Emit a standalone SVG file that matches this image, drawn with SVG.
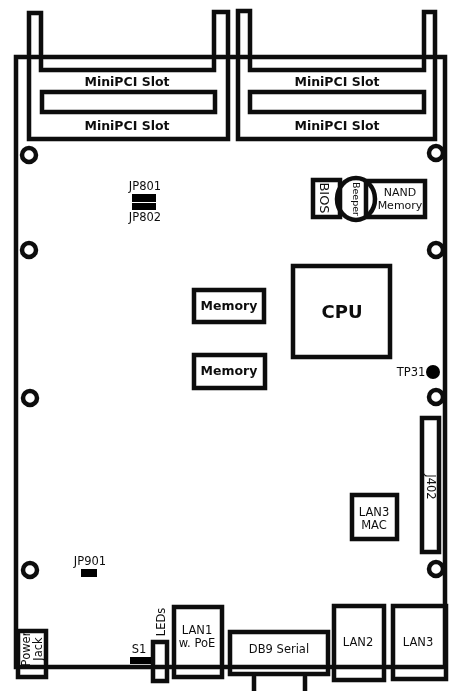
<svg xmlns="http://www.w3.org/2000/svg" width="455" height="691" viewBox="0 0 455 691">
<style>
.s{fill:none;stroke:#111;stroke-width:4.500}
.w{fill:#fff;stroke:#111;stroke-width:4.500}
.b{fill:#000}
text{font-family:"DejaVu Sans",sans-serif;fill:#111;text-anchor:middle}
.t{font-size:11.500px}
.n{font-size:11px}
.slot{font-size:12.500px;font-weight:bold}
.mem{font-size:12.500px;font-weight:bold}
</style>
<defs><filter id="soft" filterUnits="userSpaceOnUse" x="0" y="0" width="455" height="691"><feGaussianBlur stdDeviation="0.6"/></filter></defs>
<rect width="455" height="691" fill="#fff"/>
<g filter="url(#soft)">
<g id="board"><rect class="s" x="16" y="57" width="429" height="610"/></g>
<g id="slot-left">
<path class="s" d="M29 13H41V70H214V12H228V139H29Z"/>
<rect class="s" x="42" y="92" width="173" height="20"/>
<text class="slot" x="127" y="86">MiniPCI Slot</text>
<text class="slot" x="127" y="130">MiniPCI Slot</text>
</g>
<g id="slot-right">
<path class="s" d="M238 11H250V70H424V12H435V139H238Z"/>
<rect class="s" x="250" y="92" width="174" height="20"/>
<text class="slot" x="337" y="86">MiniPCI Slot</text>
<text class="slot" x="337" y="130">MiniPCI Slot</text>
</g>
<g id="holes">
<circle class="w" cx="29" cy="155" r="7"/><circle class="w" cx="436" cy="153" r="7"/>
<circle class="w" cx="29" cy="250" r="7"/><circle class="w" cx="436" cy="250" r="7"/>
<circle class="w" cx="30" cy="398" r="7"/><circle class="w" cx="436" cy="397" r="7"/>
<circle class="w" cx="30" cy="570" r="7"/><circle class="w" cx="436" cy="569" r="7"/>
</g>
<g id="jp801"><rect class="b" x="132" y="194" width="24" height="8"/><text class="t" x="145" y="190">JP801</text></g>
<g id="jp802"><rect class="b" x="132" y="203" width="24" height="7"/><text class="t" x="145" y="221">JP802</text></g>
<g id="bios"><rect class="s" x="313" y="180" width="27" height="37"/><text transform="translate(320,198) rotate(90)" style="font-size:13px">BIOS</text></g>
<g id="nand"><rect class="s" x="366" y="181" width="59" height="36"/><text class="n" x="400" y="196">NAND</text><text class="n" x="400" y="209">Memory</text></g>
<g id="beeper"><ellipse class="s" cx="356" cy="199" rx="19" ry="21"/><text transform="translate(352.500,199) rotate(90)" style="font-size:9.500px">Beeper</text></g>
<g id="cpu"><rect class="s" x="293" y="266" width="97" height="91"/><text x="342" y="318" style="font-size:18px;font-weight:bold">CPU</text></g>
<g id="memory1"><rect class="s" x="194" y="290" width="70" height="32"/><text class="mem" x="229" y="310">Memory</text></g>
<g id="memory2"><rect class="s" x="194" y="355" width="71" height="33"/><text class="mem" x="229" y="375">Memory</text></g>
<g id="tp31"><circle class="b" cx="433" cy="372" r="7"/><text class="t" x="411" y="376">TP31</text></g>
<g id="j402"><rect class="s" x="422" y="418" width="17" height="134"/><text class="t" transform="translate(427,487) rotate(90)">J402</text></g>
<g id="lan3mac"><rect class="s" x="352" y="495" width="45" height="44"/><text class="t" x="374" y="516">LAN3</text><text class="t" x="374" y="529">MAC</text></g>
<g id="jp901"><rect class="b" x="81" y="569" width="16" height="8"/><text class="t" x="90" y="565">JP901</text></g>
<g id="s1"><rect class="b" x="130" y="657" width="21" height="7"/><text class="t" x="139" y="653">S1</text></g>
<g id="power-jack"><rect class="s" x="18" y="631" width="28" height="46"/><text class="t" transform="translate(30,649) rotate(-90)">Power</text><text class="t" transform="translate(42,649) rotate(-90)">Jack</text></g>
<g id="leds"><rect class="s" x="153" y="642" width="14" height="39"/><text class="t" transform="translate(165,622) rotate(-90)">LEDs</text></g>
<g id="lan1"><rect class="s" x="174" y="607" width="48" height="70"/><text class="t" x="197" y="634">LAN1</text><text class="t" x="197" y="647">w. PoE</text></g>
<g id="db9"><path class="s" d="M254 691V674M305 691V674"/><rect class="s" x="230" y="632" width="98" height="42"/><text class="t" x="279" y="653">DB9 Serial</text></g>
<g id="lan2"><rect class="s" x="334" y="606" width="50" height="74"/><text class="t" x="358" y="646">LAN2</text></g>
<g id="lan3"><rect class="s" x="393" y="606" width="53" height="73"/><text class="t" x="418" y="646">LAN3</text></g>
</g>
<g id="connectors"/>
</svg>
